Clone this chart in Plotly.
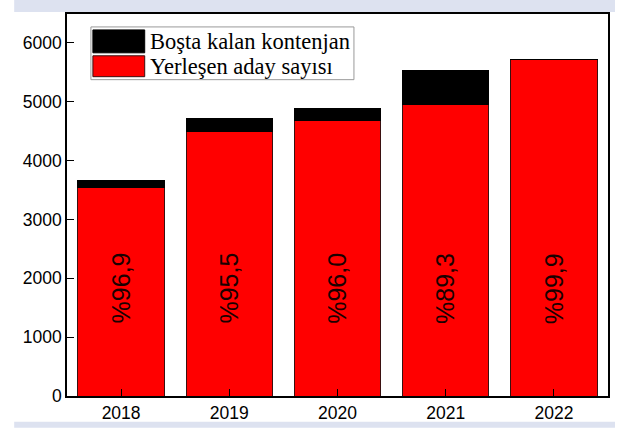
import plotly.graph_objects as go

years = ["2018", "2019", "2020", "2021", "2022"]
placed = [3550, 4500, 4685, 4945, 5712]
empty = [115, 212, 195, 592, 6]
pct_labels = ["%96,9", "%95,5", "%96,0", "%89,3", "%99,9"]
label_y = 1830
series_names = ["Boşta kalan kontenjan", "Yerleşen aday sayısı"]
series_colors = ["#000000", "#ff0000"]
y_ticks = [0, 1000, 2000, 3000, 4000, 5000, 6000]

W, H = 617, 430
L, R, T, B = 67, 7, 14, 32
pw, ph = W - L - R, H - T - B

def px(x):
    return (x - L) / pw

def py(y):
    return (H - B - y) / ph

fig = go.Figure()
fig.add_trace(go.Bar(x=years, y=placed, name=series_names[1],
                     marker=dict(color=series_colors[1], line=dict(color="#3a1010", width=1)),
                     width=0.80, showlegend=False))
fig.add_trace(go.Bar(x=years, y=empty, name=series_names[0],
                     marker=dict(color=series_colors[0], line=dict(color="#000000", width=1)),
                     width=0.80, showlegend=False))

for i, lab in enumerate(pct_labels):
    fig.add_annotation(x=i, y=label_y, text=lab, textangle=-90, showarrow=False,
                       font=dict(family="Liberation Sans, Arial", size=25, color="#1a0000"),
                       xref="x", yref="y")

shapes = []
band = "#dde2f0"
shapes.append(dict(type="rect", xref="paper", yref="paper", x0=px(14), x1=px(617),
                   y0=py(12), y1=py(0), fillcolor=band, line=dict(width=0), layer="below"))
shapes.append(dict(type="rect", xref="paper", yref="paper", x0=px(14), x1=px(617),
                   y0=py(430), y1=py(424), fillcolor=band, line=dict(width=0), layer="below"))
# legend box
shapes.append(dict(type="rect", xref="paper", yref="paper", x0=px(91), x1=px(355),
                   y0=py(80), y1=py(27), fillcolor="white", line=dict(color="#999", width=1)))
shapes.append(dict(type="rect", xref="paper", yref="paper", x0=px(93), x1=px(145),
                   y0=py(53), y1=py(30), fillcolor=series_colors[0], line=dict(color="#000", width=1)))
shapes.append(dict(type="rect", xref="paper", yref="paper", x0=px(93), x1=px(145),
                   y0=py(77), y1=py(56), fillcolor=series_colors[1], line=dict(color="#3a1010", width=1)))
for name, yc in zip(series_names, [41.5, 66.5]):
    fig.add_annotation(x=px(148), y=py(yc), xref="paper", yref="paper", text=name,
                       showarrow=False, xanchor="left", yanchor="middle",
                       font=dict(family="Liberation Serif, Times New Roman", size=22.5, color="#000"))

fig.update_layout(
    width=W, height=H, margin=dict(l=L, r=R, t=T, b=B),
    barmode="stack",
    paper_bgcolor="white", plot_bgcolor="white",
    shapes=shapes,
    font=dict(family="Liberation Sans, Arial", size=17, color="#000"),
)
fig.update_xaxes(type="category", range=[-0.5, 4.5], showline=True, linecolor="#000", linewidth=1.5,
                 mirror=True, ticks="inside", ticklen=7, tickcolor="#000", showgrid=False,
                 tickfont=dict(size=17.5))
fig.update_yaxes(range=[0, 6490], tickvals=y_ticks,
                 showline=True, linecolor="#000", linewidth=1.5, mirror=True, ticks="inside",
                 ticklen=7, tickcolor="#000", showgrid=False, zeroline=False,
                 tickfont=dict(size=17.5))

fig.write_html("out.html", config={"displayModeBar": False},
               post_script="document.body.style.margin='0px';")
